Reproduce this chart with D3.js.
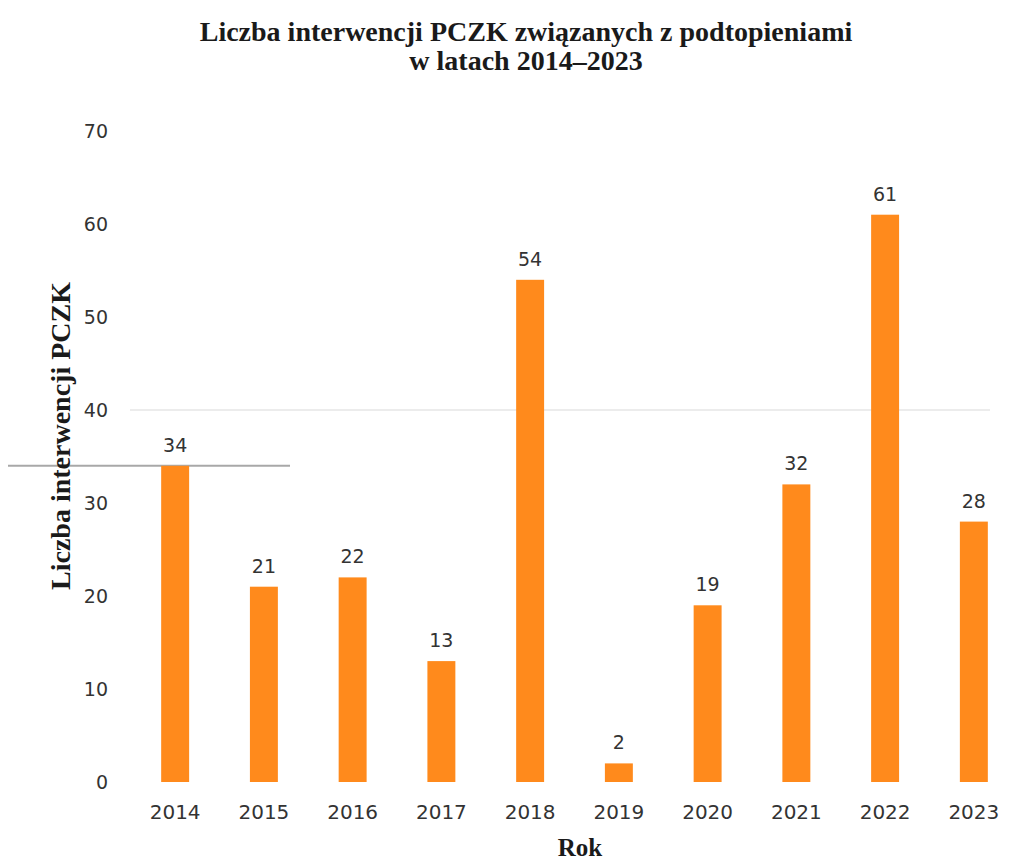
<!DOCTYPE html>
<html><head><meta charset="utf-8">
<script src="https://cdn.jsdelivr.net/npm/d3@7"></script>
<style>body{margin:0;background:#fff}</style>
</head><body>
<svg id="c" width="1019" height="865"></svg>
<script>
const years = ["2014","2015","2016","2017","2018","2019","2020","2021","2022","2023"];
const values = [34,21,22,13,54,2,19,32,61,28];
const yTicks = [0,10,20,30,40,50,60,70];
const titleLines = ["Liczba interwencji PCZK związanych z podtopieniami","w latach 2014–2023"];
const yLabel = "Liczba interwencji PCZK";
const xLabel = "Rok";

const svg = d3.select("#c");
const x = d3.scaleBand().domain(years).range([131, 1018]).paddingInner(0.685).paddingOuter(0.34);
const y = d3.scaleLinear().domain([0,70]).range([782,131]);

// faint grid line (scan)
svg.append("line").attr("x1",130).attr("x2",990).attr("y1",y(40)).attr("y2",y(40))
  .attr("stroke","#e6e6e6").attr("stroke-width",1.5);
// gray line at first bar value
svg.append("line").attr("x1",8).attr("x2",290).attr("y1",y(values[0])).attr("y2",y(values[0]))
  .attr("stroke","#a8a8a8").attr("stroke-width",2);

// title
svg.append("text").attr("x",526).attr("y",41).attr("text-anchor","middle")
  .style("font-family","Liberation Serif").style("font-weight","bold").style("font-size","28px").attr("fill","#1a1a1a")
  .selectAll("tspan").data(titleLines).join("tspan").attr("x",526).attr("dy",(d,i)=>i?29:0).text(d=>d);

// y axis
const ya = svg.append("g").attr("transform","translate(108,0)")
  .call(d3.axisLeft(y).tickValues(yTicks).tickSize(0).tickPadding(0));
ya.select(".domain").remove();
ya.selectAll("text").style("font-family","DejaVu Sans").style("font-size","19px").attr("fill","#333").attr("dy","0.35em");

// x axis
const xa = svg.append("g").attr("transform","translate(0,805)")
  .call(d3.axisBottom(x).tickSize(0).tickPadding(0));
xa.select(".domain").remove();
xa.selectAll("text").style("font-family","DejaVu Sans").style("font-size","20px").attr("fill","#333").attr("dy","0.71em");

// bars
svg.append("g").selectAll("rect").data(values).join("rect")
  .attr("x",(d,i)=>x(years[i])).attr("width",x.bandwidth())
  .attr("y",d=>y(d)).attr("height",d=>y(0)-y(d)).attr("fill","#ff8a1c");

// value labels
svg.append("g").selectAll("text").data(values).join("text")
  .attr("x",(d,i)=>x(years[i])+x.bandwidth()/2).attr("y",d=>y(d)-14)
  .attr("text-anchor","middle").style("font-family","DejaVu Sans").style("font-size","19px").attr("fill","#333")
  .text(d=>d);

// axis titles
svg.append("text").attr("transform","translate(70,436) rotate(-90)").attr("text-anchor","middle")
  .style("font-family","Liberation Serif").style("font-weight","bold").style("font-size","28px").attr("fill","#1a1a1a").text(yLabel);
svg.append("text").attr("x",580).attr("y",856).attr("text-anchor","middle")
  .style("font-family","Liberation Serif").style("font-weight","bold").style("font-size","25px").attr("fill","#1a1a1a").text(xLabel);
</script>
</body></html>
